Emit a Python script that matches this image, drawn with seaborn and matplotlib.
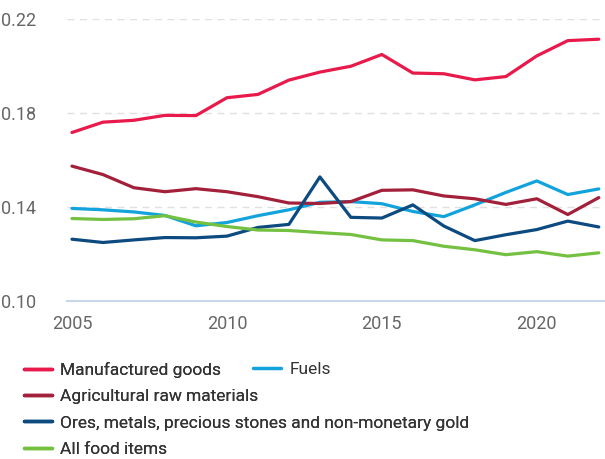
import pandas as pd
import matplotlib.pyplot as plt
import seaborn as sns
from matplotlib.lines import Line2D

sns.set_style("white")
plt.rcParams['font.family'] = ['Roboto', 'DejaVu Sans']

# data
years = list(range(2005, 2023))
manufactured = [0.1717, 0.1761, 0.1769, 0.1790, 0.1789, 0.1865, 0.1879, 0.1940, 0.1974, 0.1999,
                0.2049, 0.1970, 0.1967, 0.1941, 0.1955, 0.2043, 0.2108, 0.2114]
fuels = [0.1394, 0.1388, 0.1379, 0.1364, 0.1320, 0.1334, 0.1363, 0.1388, 0.1420, 0.1423,
         0.1414, 0.1381, 0.1359, 0.1409, 0.1462, 0.1511, 0.1453, 0.1477]
agricultural = [0.1574, 0.1538, 0.1482, 0.1465, 0.1478, 0.1465, 0.1444, 0.1417, 0.1415, 0.1423,
                0.1471, 0.1473, 0.1447, 0.1435, 0.1411, 0.1435, 0.1368, 0.1440]
ores = [0.1263, 0.1249, 0.1260, 0.1270, 0.1269, 0.1276, 0.1313, 0.1326, 0.1528, 0.1356,
        0.1353, 0.1409, 0.1319, 0.1257, 0.1282, 0.1304, 0.1340, 0.1315]
food = [0.1351, 0.1347, 0.1350, 0.1363, 0.1336, 0.1317, 0.1302, 0.1300, 0.1291, 0.1283,
        0.1260, 0.1257, 0.1233, 0.1218, 0.1197, 0.1210, 0.1191, 0.1205]

names = ["Manufactured goods", "Fuels", "Agricultural raw materials",
         "Ores, metals, precious stones and non-monetary gold", "All food items"]
colors = ["#e8194b", "#12a3dd", "#a3203a", "#0c4a80", "#74c041"]
series = [manufactured, fuels, agricultural, ores, food]

df = pd.concat([pd.DataFrame({"Year": years, "Value": v, "Group": n})
                for n, v in zip(names, series)])

fig = plt.figure(figsize=(6.05, 4.59), dpi=100)
ax = fig.add_axes([67 / 605, 1 - 301 / 459, 1 - 67 / 605, (301 - 19) / 459])

# gridlines behind the data
for y in [0.14, 0.18, 0.22]:
    ax.axhline(y, color="#e0e0e0", lw=1, ls=(0, (5, 4)), zorder=0)

sns.lineplot(data=df, x="Year", y="Value", hue="Group", hue_order=names,
             palette=dict(zip(names, colors)), linewidth=2.3, legend=False, ax=ax)

ax.set_xlim(2004.84, 2022.2)
ax.set_ylim(0.10, 0.22)
ax.set_xlabel("")
ax.set_ylabel("")
ax.set_yticks([0.10, 0.14, 0.18, 0.22])
ax.set_yticklabels([f"{t:.2f}" for t in [0.10, 0.14, 0.18, 0.22]])
ax.set_xticks([2005, 2010, 2015, 2020])
ax.set_xticks(years, minor=True)
ax.tick_params(axis="y", length=0, pad=22, labelsize=13, labelcolor="#666666")
ax.tick_params(axis="x", which="both", direction="out", length=6, width=1,
               color="#c8d6ec", labelsize=13, labelcolor="#666666", pad=4)
ax.tick_params(axis="x", which="minor", length=5)

for s in ["top", "right", "left"]:
    ax.spines[s].set_visible(False)
ax.spines["bottom"].set_color("#c8d6ec")
ax.spines["bottom"].set_linewidth(1.5)
ax.spines["bottom"].set_zorder(0)

# legend: first row has two entries, the rest one per row
def handle(c):
    return Line2D([0], [0], color=c, lw=2.5)

leg_kw = dict(frameon=False, fontsize=12.5, handlelength=1.6, handletextpad=0.5,
              labelspacing=0.64, borderaxespad=0, labelcolor="#333333")
order = [0, 2, 3, 4]
leg1 = fig.legend([handle(colors[i]) for i in order], [names[i] for i in order],
                  loc="upper left", bbox_to_anchor=(17 / 605, 1 - 355 / 459), **leg_kw)
leg2 = fig.legend([handle(colors[1])], [names[1]],
                  loc="upper left", bbox_to_anchor=(246 / 605, 1 - 355 / 459), **leg_kw)
fig.add_artist(leg1)

fig.savefig("out.png", dpi=100)
